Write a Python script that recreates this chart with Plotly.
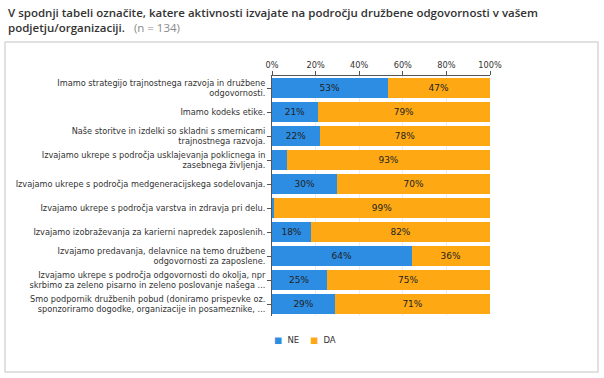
import plotly.graph_objects as go

categories = [
    "Imamo strategijo trajnostnega razvoja in družbene<br>odgovornosti.",
    "Imamo kodeks etike.",
    "Naše storitve in izdelki so skladni s smernicami<br>trajnostnega razvoja.",
    "Izvajamo ukrepe s področja usklajevanja poklicnega in<br>zasebnega življenja.",
    "Izvajamo ukrepe s področja medgeneracijskega sodelovanja.",
    "Izvajamo ukrepe s področja varstva in zdravja pri delu.",
    "Izvajamo izobraževanja za karierni napredek zaposlenih.",
    "Izvajamo predavanja, delavnice na temo družbene<br>odgovornosti za zaposlene.",
    "Izvajamo ukrepe s področja odgovornosti do okolja, npr<br>skrbimo za zeleno pisarno in zeleno poslovanje našega ...",
    "Smo podpornik družbenih pobud (doniramo prispevke oz.<br>sponzoriramo dogodke, organizacije in posameznike, ...",
]
ne_values = [53, 21, 22, 7, 30, 1, 18, 64, 25, 29]
da_values = [47, 79, 78, 93, 70, 99, 82, 36, 75, 71]
tick_vals = [0, 20, 40, 60, 80, 100]
tick_text = ["0%", "20%", "40%", "60%", "80%", "100%"]
series_names = ["NE", "DA"]

BLUE = "#2c8de3"
ORANGE = "#fea914"
TICKFONT = dict(family="DejaVu Sans", size=8.2, color="#333333")


def labels(vals):
    return [f"{v}%" if v >= 10 else "" for v in vals]


fig = go.Figure()
for name, vals, col in [(series_names[0], ne_values, BLUE), (series_names[1], da_values, ORANGE)]:
    fig.add_trace(go.Bar(
        name=name, y=categories, x=vals, orientation="h",
        marker=dict(color=col, line=dict(width=0)),
        text=labels(vals), textposition="inside", insidetextanchor="middle",
        textangle=0, textfont=dict(family="DejaVu Sans", size=9, color="#222222"),
        hoverinfo="skip", showlegend=False,
    ))

W, H = 604, 378
PX_L, PX_R, PX_T, PX_B = 272, 490, 76, 316
L, R, T, B = PX_L, W - PX_R, PX_T, H - PX_B
pw, ph = W - L - R, H - T - B


def px_x(p):
    return (p - PX_L) / pw


def px_y(p):
    return (PX_B - p) / ph


annotations = [
    dict(
        text="V spodnji tabeli označite, katere aktivnosti izvajate na področju družbene odgovornosti v vašem<br>"
             "podjetju/organizaciji.   <span style='color:#8a8a8a;font-weight:normal'>(n = 134)</span>",
        xref="paper", yref="paper", x=px_x(6), y=px_y(3), xanchor="left", yanchor="top",
        align="left", showarrow=False,
        font=dict(family="Open Sans", size=11.5, color="#333333", weight=600),
    ),
    dict(
        text=f"<span style='color:{BLUE}'>■</span>  {series_names[0]}",
        xref="paper", yref="paper", x=px_x(272), y=px_y(340), xanchor="left", yanchor="middle",
        showarrow=False, font=dict(family="DejaVu Sans", size=8.5, color="#333333"),
    ),
    dict(
        text=f"<span style='color:{ORANGE}'>■</span>  {series_names[1]}",
        xref="paper", yref="paper", x=px_x(308), y=px_y(340), xanchor="left", yanchor="middle",
        showarrow=False, font=dict(family="DejaVu Sans", size=8.5, color="#333333"),
    ),
]

fig.update_layout(
    width=W, height=H,
    barmode="stack", bargap=0.2,
    margin=dict(l=L, r=R, t=T, b=B, autoexpand=False),
    paper_bgcolor="white", plot_bgcolor="white",
    uniformtext=dict(minsize=8, mode="show"),
    showlegend=False,
    xaxis=dict(
        side="top", range=[0, 100], tickvals=tick_vals, ticktext=tick_text,
        showline=True, linecolor="#555555", linewidth=1,
        ticks="outside", ticklen=4, tickcolor="#555555",
        showgrid=True, gridcolor="#eeeeee", zeroline=False,
        tickfont=TICKFONT, fixedrange=True, automargin=False,
    ),
    yaxis=dict(
        autorange="reversed", showline=True, linecolor="#555555", linewidth=1,
        ticks="outside", ticklen=4, tickcolor="#555555",
        tickfont=TICKFONT, fixedrange=True, automargin=False,
    ),
    annotations=annotations,
    shapes=[dict(
        type="rect", xref="paper", yref="paper",
        x0=px_x(5), x1=px_x(598), y0=px_y(372), y1=px_y(42),
        line=dict(color="#d8d8d8", width=1.5), fillcolor="rgba(0,0,0,0)", layer="below",
    )],
)

fig.write_html("out.html", config={"displayModeBar": False},
               post_script="document.body.style.margin='0';")
